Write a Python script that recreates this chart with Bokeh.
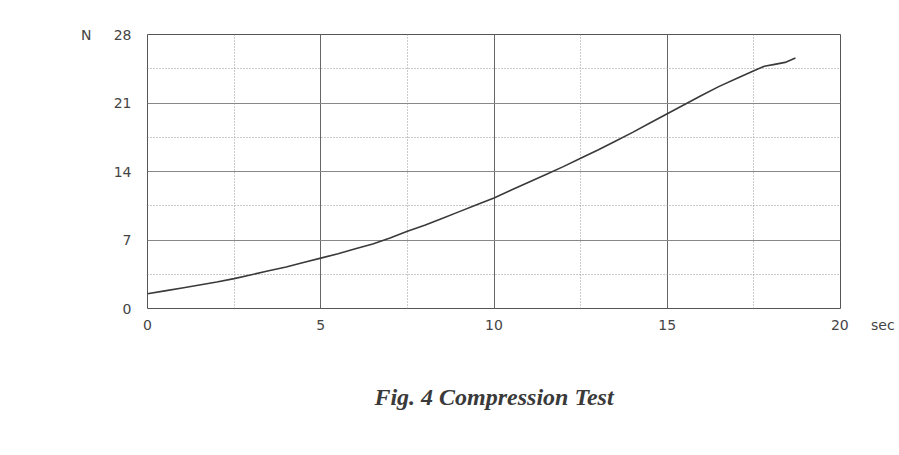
from bokeh.plotting import figure
from bokeh.models import FixedTicker, Range1d, Title
from bokeh.embed import file_html
from bokeh.resources import INLINE

# data
time_s = [0, 0.5, 1, 1.5, 2, 2.5, 3, 3.5, 4, 4.5, 5, 5.5, 6, 6.5, 7, 7.5, 8, 8.5, 9, 9.5,
          10, 10.5, 11, 11.5, 12, 12.5, 13, 13.5, 14, 14.5, 15, 15.5, 16, 16.5, 17, 17.5,
          17.8, 18.1, 18.4, 18.7]
force_n = [1.5, 1.8, 2.1, 2.4, 2.7, 3.05, 3.45, 3.85, 4.25, 4.7, 5.15, 5.6, 6.1, 6.6, 7.2, 7.9,
           8.5, 9.2, 9.9, 10.6, 11.3, 12.1, 12.9, 13.7, 14.5, 15.35, 16.2, 17.1, 18.0, 18.95,
           19.9, 20.85, 21.8, 22.7, 23.5, 24.3, 24.75, 24.95, 25.15, 25.6]
x_ticks = [0, 5, 10, 15, 20]
x_minor = [2.5, 7.5, 12.5, 17.5]
y_ticks = [0, 7, 14, 21, 28]
y_minor = [3.5, 10.5, 17.5, 24.5]
x_unit = "sec"
y_unit = "N"
caption = "Fig. 4 Compression Test"

NB = "\u00a0"
p = figure(width=899, height=455, output_backend="svg", toolbar_location=None,
           x_range=Range1d(0, 20), y_range=Range1d(0, 28),
           min_border_left=147, min_border_right=59, min_border_top=34, min_border_bottom=147)
p.background_fill_color = "white"
p.border_fill_color = "white"
p.outline_line_color = "#555555"
p.outline_line_width = 1

p.xaxis.ticker = FixedTicker(ticks=x_ticks, minor_ticks=x_minor)
p.yaxis.ticker = FixedTicker(ticks=y_ticks, minor_ticks=y_minor)
for ax in (p.xaxis[0], p.yaxis[0]):
    ax.axis_line_color = None
    ax.major_tick_line_color = None
    ax.minor_tick_line_color = None
    ax.major_label_text_font = "DejaVu Sans"
    ax.major_label_text_font_size = "14px"
    ax.major_label_text_color = "#444444"
p.xaxis.major_label_standoff = 2
p.yaxis.major_label_standoff = 10

# unit names sit on the same line as the last tick labels
p.xaxis.major_label_overrides = {x_ticks[-1]: NB * 10 + str(x_ticks[-1]) + NB * 5 + x_unit}
p.yaxis.major_label_overrides = {y_ticks[-1]: y_unit + NB * 5 + str(y_ticks[-1])}

p.xgrid.grid_line_color = "#666666"
p.ygrid.grid_line_color = "#888888"
p.grid.grid_line_width = 1
p.grid.minor_grid_line_color = "#999999"
p.grid.minor_grid_line_dash = "1 2"
p.grid.minor_grid_line_width = 1

p.line(time_s, force_n, line_color="#3a3a3a", line_width=1.6)

cap = Title(text=caption, align="center",
            text_font="Liberation Serif", text_font_style="bold italic",
            text_font_size="24px", text_color="#3a3a3a", offset=8, standoff=92)
p.add_layout(cap, "below")

open("out.html", "w").write(file_html(p, INLINE))
